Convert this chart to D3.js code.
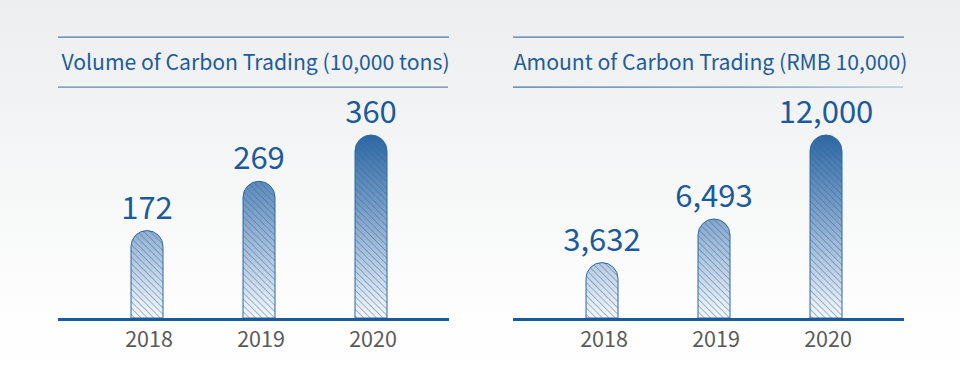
<!DOCTYPE html>
<html>
<head>
<meta charset="utf-8">
<script src="https://cdn.jsdelivr.net/npm/d3@7"></script>
<style>
  html, body { margin: 0; padding: 0; background: #fff; }
  svg { display: block; }
</style>
</head>
<body>
<svg id="chart" width="960" height="380"></svg>
<script>
// ---- data ----
const years = ["2018", "2019", "2020"];
const volumeTitle = "Volume of Carbon Trading (10,000 tons)";
const volumeValues = [172, 269, 360];
const amountTitle = "Amount of Carbon Trading (RMB 10,000)";
const amountValues = [3632, 6493, 12000];

const FONT = "'Noto Sans CJK SC', 'Noto Sans', sans-serif";
const BLUE = "#1b5a9b";

const svg = d3.select("#chart");
const defs = svg.append("defs");

// background gradient
const bg = defs.append("linearGradient").attr("id", "bg")
  .attr("x1", 0).attr("y1", 0).attr("x2", 0).attr("y2", 1);
bg.append("stop").attr("offset", "0%").attr("stop-color", "#eceeef");
bg.append("stop").attr("offset", "80%").attr("stop-color", "#fdfdfd");
bg.append("stop").attr("offset", "100%").attr("stop-color", "#ffffff");
svg.append("rect").attr("width", 960).attr("height", 380).attr("fill", "url(#bg)");

// bar fill gradient (shared along y)
const baseY = 318;
const topY = 135;
const barGrad = defs.append("linearGradient").attr("id", "barGrad")
  .attr("gradientUnits", "userSpaceOnUse")
  .attr("x1", 0).attr("y1", topY).attr("x2", 0).attr("y2", baseY);
barGrad.append("stop").attr("offset", "0%").attr("stop-color", "#2c67a3");
barGrad.append("stop").attr("offset", "45%").attr("stop-color", "#82a4ca");
barGrad.append("stop").attr("offset", "100%").attr("stop-color", "#f6f8fb");

// hatch pattern (backslash diagonals)
const hatch = defs.append("pattern").attr("id", "hatch")
  .attr("patternUnits", "userSpaceOnUse")
  .attr("width", 4.5).attr("height", 4.5)
  .attr("patternTransform", "rotate(-45)");
hatch.append("line").attr("x1", 0).attr("y1", 0).attr("x2", 0).attr("y2", 4.5)
  .attr("stroke", "#2f69a5").attr("stroke-width", 1.1).attr("stroke-opacity", 0.8);

// right panel bottom rule gradient
const ruleGrad = defs.append("linearGradient").attr("id", "ruleGrad")
  .attr("x1", 0).attr("y1", 0).attr("x2", 1).attr("y2", 0);
ruleGrad.append("stop").attr("offset", "0%").attr("stop-color", "#3c6fa6");
ruleGrad.append("stop").attr("offset", "60%").attr("stop-color", "#5f88b5");
ruleGrad.append("stop").attr("offset", "100%").attr("stop-color", "#a8bfd8");

const panelW = 391;
const barW = 32;

function panel(x0, title, values, ruleFill) {
  const g = svg.append("g").attr("transform", `translate(${x0},0)`);

  // title rules
  g.append("rect").attr("x", 0).attr("y", 36.5).attr("width", panelW).attr("height", 1.2).attr("fill", "#4875a7");
  g.append("rect").attr("x", 0).attr("y", 86.5).attr("width", panelW - 1).attr("height", 1.2).attr("fill", ruleFill);

  // title
  g.append("text").attr("x", panelW / 2 + 2).attr("y", 70)
    .attr("text-anchor", "middle")
    .attr("font-family", FONT).attr("font-size", 21.2)
    .attr("fill", "#1f5c9b")
    .text(title);

  const x = d3.scaleBand().domain(years).range([33, 369]);
  const y = d3.scaleLinear().domain([0, d3.max(values)]).range([baseY, topY]);

  const data = years.map((yr, i) => ({ yr, v: values[i] }));

  const barPath = d => {
    const cx = x(d.yr) + x.bandwidth() / 2;
    const l = cx - barW / 2, r = cx + barW / 2, t = y(d.v), r0 = barW / 2;
    return `M${l},${baseY} L${l},${t + r0} A${r0},${r0} 0 0 1 ${r},${t + r0} L${r},${baseY} Z`;
  };

  const bars = g.append("g");
  bars.selectAll("path.fill").data(data).join("path")
    .attr("d", barPath).attr("fill", "url(#barGrad)");
  bars.selectAll("path.hatch").data(data).join("path")
    .attr("d", barPath).attr("fill", "url(#hatch)");
  bars.selectAll("path.outline").data(data).join("path")
    .attr("d", barPath).attr("fill", "none")
    .attr("stroke", "#2d68a5").attr("stroke-width", 1);

  // value labels
  g.selectAll("text.val").data(data).join("text")
    .attr("x", d => x(d.yr) + x.bandwidth() / 2)
    .attr("y", d => y(d.v) - 12)
    .attr("text-anchor", "middle")
    .attr("font-family", FONT).attr("font-size", 31)
    .attr("fill", BLUE)
    .text(d => d3.format(",")(d.v));

  // baseline
  g.append("rect").attr("x", 0).attr("y", baseY).attr("width", panelW).attr("height", 3)
    .attr("fill", "#1a5a9b");

  // year labels
  g.selectAll("text.yr").data(data).join("text")
    .attr("x", d => x(d.yr) + x.bandwidth() / 2 + 2)
    .attr("y", 347)
    .attr("text-anchor", "middle")
    .attr("font-family", FONT).attr("font-size", 21.5)
    .attr("fill", "#5a5a5a")
    .text(d => d.yr);
}

panel(58, volumeTitle, volumeValues, "#5a7fa8");
panel(513, amountTitle, amountValues, "url(#ruleGrad)");
</script>
</body>
</html>
